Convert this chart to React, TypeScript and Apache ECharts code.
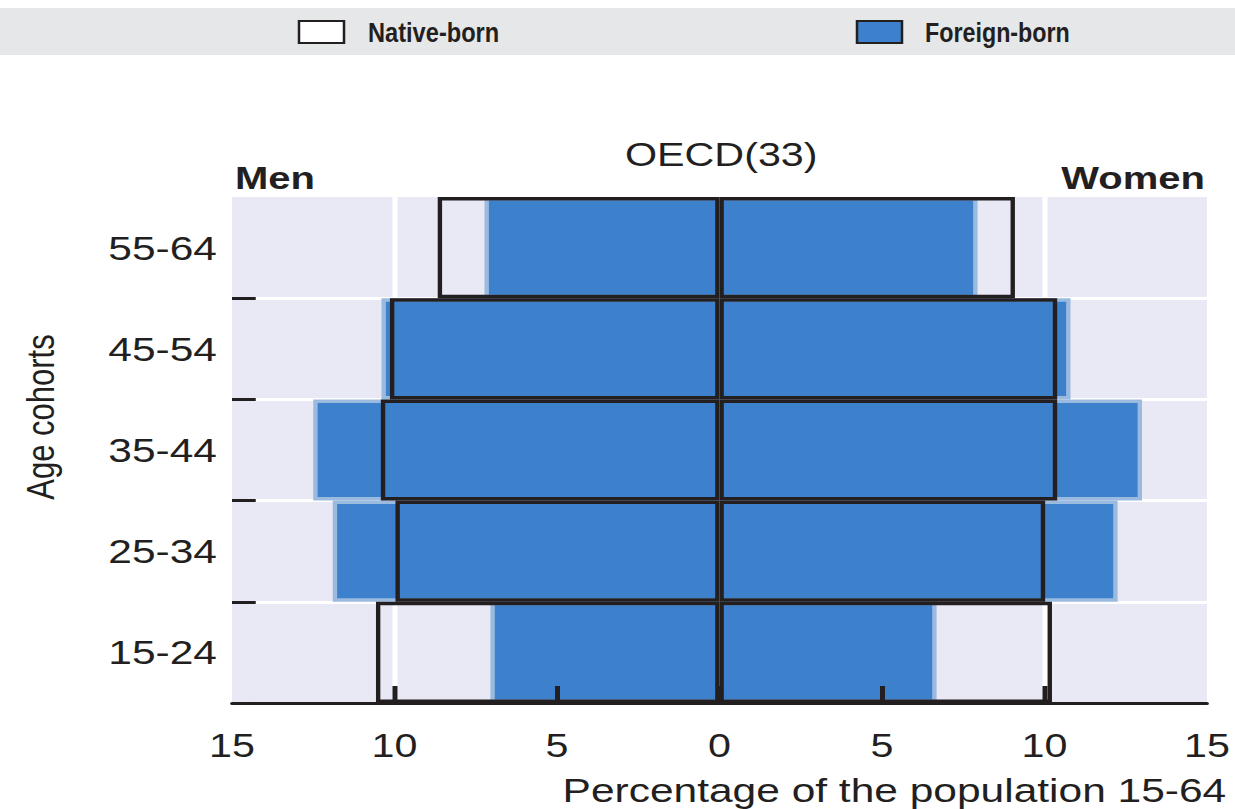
import React, { useEffect, useRef } from 'react';
import * as echarts from 'echarts';

// Age cohorts, top to bottom
const AGE_GROUPS = ['55-64', '45-54', '35-44', '25-34', '15-24'];
// Percentage of the population 15-64
const NATIVE_MEN = [8.67, 10.14, 10.42, 9.97, 10.57];
const NATIVE_WOMEN = [9.09, 10.39, 10.39, 10.02, 10.23];
const FOREIGN_MEN = [7.23, 10.4, 12.5, 11.9, 7.05];
const FOREIGN_WOMEN = [7.94, 10.8, 13.0, 12.25, 6.68];
const X_MIN = -15;
const X_MAX = 15;
const X_STEP = 5;
const X_TICK_MARKS = [-10, -5, 0, 5, 10];

const TITLE = 'OECD(33)';
const LEFT_LABEL = 'Men';
const RIGHT_LABEL = 'Women';
const X_NAME = 'Percentage of the population 15-64';
const Y_NAME = 'Age cohorts';
const NATIVE = 'Native-born';
const FOREIGN = 'Foreign-born';

const STRETCH = 1.25;
const W = 1235 / STRETCH;
const H = 809;
const INK = '#231f20';
const BLUE = '#3d80cc';
const LIGHT_BLUE = '#9bbae0';
const FONT = 'Liberation Sans, Arial, sans-serif';

export default function App() {
  const ref = useRef<HTMLDivElement>(null);

  useEffect(() => {
    if (!ref.current) return;
    const chart = echarts.init(ref.current, null, { renderer: 'svg' });
    const gridRect = { left: 185.6, right: 22.4, top: 197, bottom: 106 };
    const txt = (text: string, x: number, y: number, size: number, align: string, extra: any = {}, elExtra: any = {}) => ({
      type: 'text',
      x,
      y,
      ...elExtra,
      style: {
        text,
        fontFamily: FONT,
        fontSize: size,
        fill: INK,
        textAlign: align,
        align,
        textVerticalAlign: 'middle',
        verticalAlign: 'middle',
        ...extra,
      },
    });
    const barBase = { type: 'bar', xAxisIndex: 0, yAxisIndex: 0, barGap: '-100%', barCategoryGap: '0%', silent: true };
    const option: any = {
      animation: false,
      backgroundColor: '#ffffff',
      graphic: [
        { type: 'rect', z: -10, shape: { x: 0, y: 8, width: W, height: 47 }, style: { fill: '#e6e7e8' } },
        // legend
        { type: 'rect', shape: { x: 239.2, y: 21, width: 36, height: 22 }, style: { fill: '#ffffff', stroke: INK, lineWidth: 2 } },
        txt(NATIVE, 294.4, 32, 27, 'left', { fontWeight: 'bold' }, { scaleX: 0.7 }),
        { type: 'rect', shape: { x: 685.6, y: 21, width: 36, height: 22 }, style: { fill: BLUE, stroke: INK, lineWidth: 2 } },
        txt(FOREIGN, 740, 32, 27, 'left', { fontWeight: 'bold' }, { scaleX: 0.69 }),
        // titles
        txt(TITLE, 577, 155, 33, 'center'),
        txt(LEFT_LABEL, 188, 178, 32, 'left', { fontWeight: 'bold' }),
        txt(RIGHT_LABEL, 964, 178, 32, 'right', { fontWeight: 'bold' }),
        txt(X_NAME, 981, 790, 34, 'right'),
        txt(Y_NAME, 32, 417, 31, 'center', {}, { rotation: Math.PI / 2 }),
      ],
      grid: [
        { ...gridRect, show: true, backgroundColor: '#e9e9f5', borderWidth: 0 },
        { ...gridRect, show: false },
      ],
      xAxis: [
        {
          gridIndex: 0, type: 'value', min: X_MIN, max: X_MAX, interval: X_STEP,
          axisLine: { show: false }, axisTick: { show: false }, axisLabel: { show: false },
          splitLine: { show: true, showMinLine: false, showMaxLine: false, lineStyle: { color: '#ffffff', width: 4 } },
        },
        {
          gridIndex: 1, type: 'value', min: X_MIN, max: X_MAX, interval: X_STEP, z: 10,
          axisLine: { show: true, lineStyle: { color: INK, width: 3 } },
          axisTick: { show: true, inside: true, length: 17, customValues: X_TICK_MARKS, lineStyle: { color: INK, width: 4 } },
          axisLabel: { margin: 26, fontFamily: FONT, fontSize: 33, color: INK, formatter: (v: number) => String(Math.abs(v)) },
          splitLine: { show: false },
        },
      ],
      yAxis: [
        {
          gridIndex: 0, type: 'category', inverse: true, data: AGE_GROUPS,
          axisLine: { show: false, onZero: false },
          axisTick: { show: false },
          axisLabel: { margin: 12, fontFamily: FONT, fontSize: 34, color: INK },
          splitLine: { show: true, showMinLine: false, showMaxLine: false, lineStyle: { color: '#ffffff', width: 3 } },
        },
        {
          gridIndex: 1, type: 'category', inverse: true, data: AGE_GROUPS, z: 10,
          axisLine: { show: false, onZero: false },
          axisLabel: { show: false },
          splitLine: { show: false },
          axisTick: { show: true, inside: true, length: 19, interval: (i: number) => i !== 0, lineStyle: { color: INK, width: 3 } },
        },
      ],
      series: [
        { ...barBase, name: FOREIGN, itemStyle: { color: BLUE, borderColor: LIGHT_BLUE, borderWidth: 3.5 }, data: FOREIGN_MEN.map((v) => -v) },
        { ...barBase, name: FOREIGN, itemStyle: { color: BLUE, borderColor: LIGHT_BLUE, borderWidth: 3.5 }, data: FOREIGN_WOMEN },
        { ...barBase, name: NATIVE, itemStyle: { color: 'rgba(0,0,0,0)', borderColor: INK, borderWidth: 3.5 }, data: NATIVE_MEN.map((v) => -v) },
        { ...barBase, name: NATIVE, itemStyle: { color: 'rgba(0,0,0,0)', borderColor: INK, borderWidth: 3.5 }, data: NATIVE_WOMEN },
      ],
    };
    chart.setOption(option);
    return () => chart.dispose();
  }, []);

  return (
    <div
      ref={ref}
      style={{
        position: 'absolute',
        left: 0,
        top: 0,
        width: W,
        height: H,
        transform: `scaleX(${STRETCH})`,
        transformOrigin: '0 0',
      }}
    />
  );
}
